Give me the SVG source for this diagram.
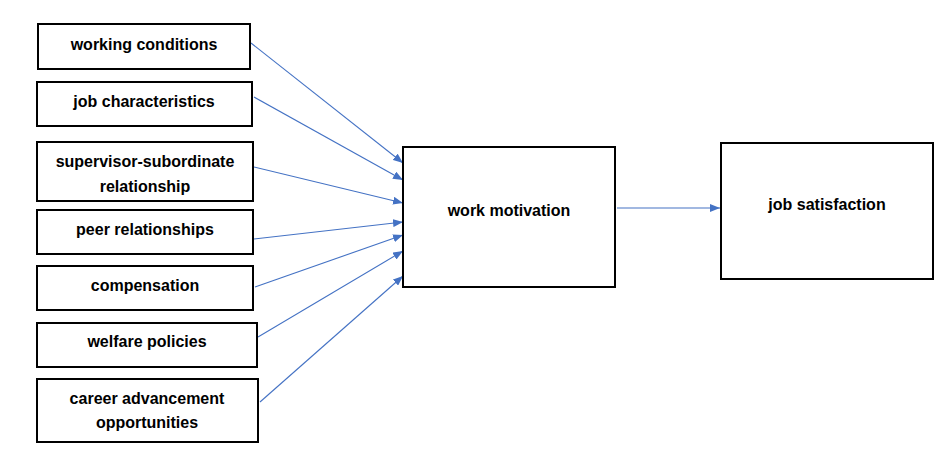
<svg xmlns="http://www.w3.org/2000/svg" width="950" height="462" viewBox="0 0 950 462">
<style>
.box{fill:#fff;stroke:#000;stroke-width:2}
.lbl{font-family:"Liberation Sans",Arial,sans-serif;font-weight:bold;font-size:16px;fill:#000;text-anchor:middle;dominant-baseline:central}
.con{stroke:#4472C4;stroke-width:1.1;fill:none;marker-end:url(#ah)}
</style>
<defs>
<marker id="ah" markerWidth="10" markerHeight="8" refX="10" refY="4" orient="auto" markerUnits="userSpaceOnUse">
<path d="M0,0 L10,4 L0,8 z" fill="#4472C4"/>
</marker>
</defs>
<rect width="950" height="462" fill="#fff"/>
<g id="connectors">
<line class="con" x1="251" y1="43" x2="403" y2="163"/>
<line class="con" x1="254" y1="97" x2="403" y2="180"/>
<line class="con" x1="254" y1="167" x2="403" y2="203"/>
<line class="con" x1="254" y1="239" x2="403" y2="222"/>
<line class="con" x1="255" y1="287" x2="403" y2="235"/>
<line class="con" x1="258" y1="337" x2="403" y2="251"/>
<line class="con" x1="260" y1="402" x2="403" y2="276"/>
<line class="con" x1="617" y1="208" x2="720" y2="208"/>
</g>
<g id="n1"><rect class="box" x="38" y="24" width="212" height="45"/><text class="lbl" x="144" y="44">working conditions</text></g>
<g id="n2"><rect class="box" x="37" y="82" width="215" height="44"/><text class="lbl" x="144" y="101">job characteristics</text></g>
<g id="n3"><rect class="box" x="37" y="142" width="216" height="59"/><text class="lbl" x="145" y="161">supervisor-subordinate</text><text class="lbl" x="145" y="186">relationship</text></g>
<g id="n4"><rect class="box" x="37" y="210" width="216" height="44"/><text class="lbl" x="145" y="229">peer relationships</text></g>
<g id="n5"><rect class="box" x="37" y="266" width="216" height="44"/><text class="lbl" x="145" y="285">compensation</text></g>
<g id="n6"><rect class="box" x="37" y="323" width="220" height="44"/><text class="lbl" x="147" y="341">welfare policies</text></g>
<g id="n7"><rect class="box" x="37" y="379" width="221" height="63"/><text class="lbl" x="147" y="398">career advancement</text><text class="lbl" x="147" y="422">opportunities</text></g>
<g id="n8"><rect class="box" x="403" y="147" width="212" height="140"/><text class="lbl" x="509" y="210">work motivation</text></g>
<g id="n9"><rect class="box" x="721" y="143" width="212" height="136"/><text class="lbl" x="827" y="204">job satisfaction</text></g>
</svg>
